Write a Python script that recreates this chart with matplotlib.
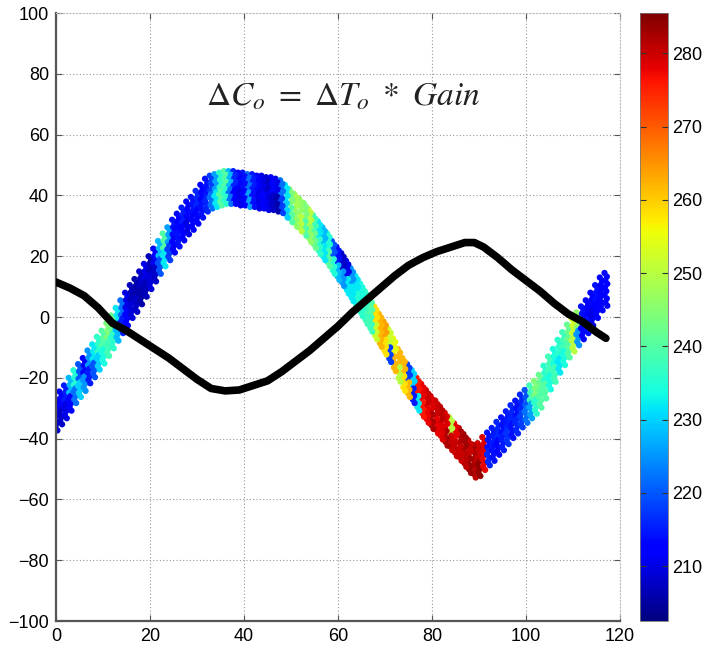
import numpy as np
import matplotlib
matplotlib.use("Agg")
import matplotlib.pyplot as plt
from matplotlib.colors import Normalize

plt.rcParams['font.family'] = ['Liberation Sans', 'DejaVu Sans']
plt.rcParams['mathtext.fontset'] = 'stix'

# ---- data ----
band_x = list(range(0, 118))
band_y = [-32, -30, -28, -25.5, -23, -21, -19, -16.5, -14.5, -12,
          -10, -7.5, -5, -2.5, 0, 2.5, 5, 7, 9.5, 12,
          14.5, 17, 19.5, 22, 24, 26.5, 28.5, 30.5, 32.5, 34,
          36, 38, 40, 41, 41.5, 42, 42.5, 42.5, 42.5, 42,
          42, 41.5, 41.5, 41, 41, 40.5, 40.5, 40, 39.5, 38,
          36.5, 35, 33.5, 32, 30, 28, 26, 24, 22, 19.5,
          17.5, 15.5, 13, 10.5, 8, 5.5, 3, 0.5, -2, -4.5,
          -7, -9.5, -12.5, -16, -19, -21, -23, -25.5, -27.5, -29.5,
          -31.5, -33, -35, -37, -38.5, -40.5, -42, -44, -46, -47.5,
          -47, -45, -43.5, -42, -40, -38.5, -36.5, -34.5, -33, -31,
          -29.5, -28, -26.5, -24.5, -21.5, -18.5, -16, -13, -10.5, -8,
          -6, -4, -2, 0, 2.5, 5, 7.5, 9]
temp_hi = [210, 212, 215, 228, 235, 220, 212, 225, 232, 236,
           240, 244, 242, 232, 222, 210, 207, 206, 208, 210,
           207, 212, 228, 240, 226, 214, 212, 215, 212, 214,
           216, 212, 214, 218, 226, 236, 240, 228, 216, 213,
           214, 222, 215, 212, 210, 208, 212, 210, 222, 232,
           244, 248, 246, 244, 250, 238, 232, 228, 235, 220,
           214, 208, 210, 225, 232, 234, 236, 240, 258, 262,
           264, 252, 255, 262, 262, 218, 230, 276, 278, 280,
           279, 280, 281, 279, 250, 278, 282, 283, 280, 282,
           280, 279, 214, 215, 216, 214, 215, 216, 214, 216,
           220, 238, 244, 242, 236, 238, 234, 236, 238, 242,
           252, 246, 214, 212, 212, 214, 212, 213]
temp_lo = [208, 208, 210, 212, 222, 230, 225, 215, 220, 230,
           234, 238, 236, 228, 215, 212, 209, 208, 206, 207,
           209, 208, 220, 232, 218, 212, 214, 212, 210, 212,
           212, 214, 216, 222, 232, 240, 236, 222, 212, 210,
           212, 226, 214, 210, 212, 210, 208, 206, 218, 230,
           240, 246, 250, 240, 246, 242, 236, 232, 240, 235,
           228, 225, 232, 232, 235, 236, 238, 238, 252, 262,
           258, 218, 262, 250, 258, 262, 215, 232, 276, 278,
           282, 278, 279, 282, 280, 280, 280, 281, 283, 281,
           284, 278, 216, 214, 213, 215, 217, 214, 216, 218,
           222, 226, 236, 240, 240, 234, 238, 232, 234, 240,
           250, 225, 212, 214, 210, 212, 213, 212]

line_x = [0, 3, 6, 9, 12, 15, 18, 21, 24, 27, 30, 33, 36, 39, 42, 45, 48, 51,
          54, 57, 60, 63, 66, 69, 72, 75, 78, 81, 84, 87, 89, 91, 94, 97, 100,
          103, 106, 109, 112, 115, 117]
line_y = [11.5, 9.5, 7, 3, -2, -4.5, -7.5, -10.5, -13.5, -17, -20.5, -23.5,
          -24.3, -24, -22.5, -21, -18, -14.5, -11, -7, -3, 1.5, 5.5, 9.5, 13.5,
          17, 19.5, 21.5, 23, 24.5, 24.5, 23, 19.5, 15.5, 12, 8.5, 4.5, 1, -1.5,
          -5, -7]

x_ticks = [0, 20, 40, 60, 80, 100, 120]
y_ticks = [-100, -80, -60, -40, -20, 0, 20, 40, 60, 80, 100]
cbar_ticks = [210, 220, 230, 240, 250, 260, 270, 280]
clim = (202.5, 285.5)
label = r'$\Delta C_o\ =\ \Delta T_o\ *\ Gain$'

# ---- drawing ----
fig = plt.figure(figsize=(7.06, 6.58), dpi=100)
ax = fig.add_axes([0.0793, 0.0562, 0.7989, 0.924])
cax = fig.add_axes([0.9065, 0.0562, 0.0397, 0.924])

norm = Normalize(*clim)
bx = np.array(band_x, dtype=float)
by = np.array(band_y, dtype=float)
offsets = [5.5, 4.3, 3.1, 1.9, 0.7, -0.5, -1.7, -2.9, -4.1, -5.3]
shifts = [-0.3, 0.2, -0.1, 0.3, -0.2, 0.1, -0.3, 0.2, -0.1, 0.3]
xs, ys, cs = [], [], []
for off, sh in zip(offsets, shifts):
    xs.append(bx + sh)
    ys.append(by + off)
    cs.append(np.array(temp_hi if off > 0 else temp_lo, dtype=float))
xs = np.concatenate(xs); ys = np.concatenate(ys); cs = np.concatenate(cs)
sc = ax.scatter(xs, ys, c=cs, cmap='jet', norm=norm, s=20, marker='o',
                linewidths=0, zorder=2)

ax.plot(line_x, line_y, color='black', lw=5.5, solid_capstyle='round',
        solid_joinstyle='round', zorder=3)

ax.text(61, 72.5, label, fontsize=24, ha='center', va='center', color='#222222')

ax.set_xlim(0, 120)
ax.set_ylim(-100, 100)
ax.set_xticks(x_ticks)
ax.set_yticks(y_ticks)
ax.grid(True, linestyle=(0, (1, 2)), color='#999999', linewidth=0.8)
ax.tick_params(direction='in', labelsize=13, length=4, top=True, right=True,
               colors='#555555', labelcolor='black', pad=5)
for s in ['left', 'bottom']:
    ax.spines[s].set_color('#555555')
    ax.spines[s].set_linewidth(1.6)
for s in ['top', 'right']:
    ax.spines[s].set_color('#bbbbbb')
    ax.spines[s].set_linewidth(0.8)
    ax.spines[s].set_linestyle((0, (1, 2)))

cb = fig.colorbar(sc, cax=cax, ticks=cbar_ticks)
cb.outline.set_linewidth(0.6)
cb.outline.set_edgecolor('#777777')
cax.tick_params(direction='in', length=4, labelsize=13, colors='#333333',
                labelcolor='black', left=True, right=True, pad=3)

fig.savefig('out.png', dpi=100)
